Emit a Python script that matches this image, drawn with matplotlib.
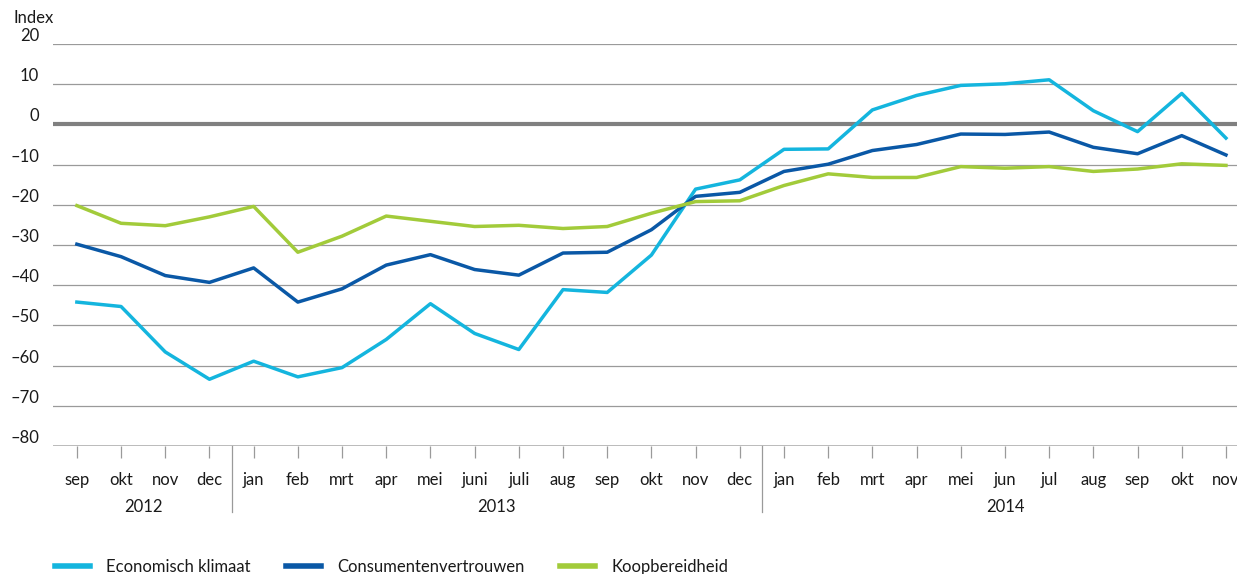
import matplotlib
matplotlib.use("Agg")
import matplotlib.pyplot as plt
import matplotlib.transforms as mtransforms

plt.rcParams["font.family"] = ["Lato", "DejaVu Sans"]

# Maanden (sep 2012 - nov 2014)
months = ["sep", "okt", "nov", "dec",
          "jan", "feb", "mrt", "apr", "mei", "juni", "juli", "aug", "sep", "okt", "nov", "dec",
          "jan", "feb", "mrt", "apr", "mei", "jun", "jul", "aug", "sep", "okt", "nov"]
years = ["2012", "2013", "2014"]
year_first = [0, 4, 16]
year_last = [3, 15, 26]

economisch_klimaat = [-44.2, -45.3, -56.6, -63.4,
                      -58.9, -62.8, -60.5, -53.5, -44.6, -52.0, -56.0, -41.1, -41.8, -32.5, -16.1, -13.8,
                      -6.2, -6.1, 3.6, 7.2, 9.7, 10.1, 11.1, 3.4, -1.8, 7.7, -3.4]
consumentenvertrouwen = [-29.8, -32.9, -37.6, -39.3,
                         -35.7, -44.2, -40.9, -35.0, -32.4, -36.1, -37.5, -32.0, -31.8, -26.2, -17.9, -16.9,
                         -11.7, -9.9, -6.5, -5.0, -2.4, -2.5, -1.9, -5.7, -7.3, -2.8, -7.6]
koopbereidheid = [-20.2, -24.6, -25.2, -23.0,
                  -20.4, -31.8, -27.8, -22.8, -24.1, -25.4, -25.1, -25.9, -25.4, -22.1, -19.2, -19.0,
                  -15.2, -12.3, -13.2, -13.2, -10.5, -10.9, -10.5, -11.7, -11.1, -9.8, -10.2]

yticks = [20, 10, 0, -10, -20, -30, -40, -50, -60, -70, -80]

C_ECON = "#14B5DE"
C_CONS = "#0A58A6"
C_KOOP = "#A2CB3A"
TXT = "#1a1a1a"
FS = 12

fig = plt.figure(figsize=(12.37, 5.74), dpi=100)
ax = fig.add_axes([53 / 1237, 1 - 446 / 574, 1 - 53 / 1237, 402 / 574])

x = list(range(len(months)))

# rasterlijnen
for v in yticks:
    if v == 0:
        ax.axhline(v, color="#808080", lw=3.0, zorder=1)
    elif v == -80:
        ax.axhline(v, color="#BBBBBB", lw=1.4, zorder=1)
    else:
        ax.axhline(v, color="#9A9A9A", lw=0.9, zorder=1)

ax.plot(x, economisch_klimaat, color=C_ECON, lw=2.5, label="Economisch klimaat", zorder=3)
ax.plot(x, consumentenvertrouwen, color=C_CONS, lw=2.5, label="Consumentenvertrouwen", zorder=3)
ax.plot(x, koopbereidheid, color=C_KOOP, lw=2.5, label="Koopbereidheid", zorder=3)

ax.set_xlim(-0.54, 26.25)
ax.set_ylim(-80, 20)

for s in ax.spines.values():
    s.set_visible(False)

ax.set_yticks(yticks)
ax.set_yticklabels([str(v).replace("-", "\u2013") for v in yticks])
ax.tick_params(axis="y", length=0, pad=10, labelsize=FS, labelcolor=TXT)
for lbl in ax.get_yticklabels():
    lbl.set_verticalalignment("bottom")

ax.set_xticks(x)
ax.set_xticklabels(months)
ax.tick_params(axis="x", length=8.5, width=0.9, color="#9A9A9A", pad=10,
               labelsize=FS, labelcolor=TXT)

trans = mtransforms.blended_transform_factory(ax.transData, ax.transAxes)
for first, last, yr in zip(year_first, year_last, years):
    ax.text((first + last) / 2, -0.152, yr, transform=trans, ha="center", va="center",
            fontsize=FS, color=TXT)
for last in year_last[:-1]:
    ax.plot([last + 0.5, last + 0.5], [0, -0.165], transform=trans, color="#9A9A9A",
            lw=0.9, clip_on=False)

fig.text(13 / 1237, 1 - 18 / 574, "Index", fontsize=FS, color=TXT, va="center", ha="left")

leg = fig.legend(loc="center left", bbox_to_anchor=(48 / 1237, 1 - 567 / 574), ncol=3,
                 frameon=False, fontsize=FS, handlelength=2.1, handletextpad=1.0,
                 columnspacing=2.1, borderaxespad=0)
for h in leg.legend_handles:
    h.set_linewidth(4)
for t in leg.get_texts():
    t.set_color(TXT)

fig.savefig("out.png", dpi=100)
